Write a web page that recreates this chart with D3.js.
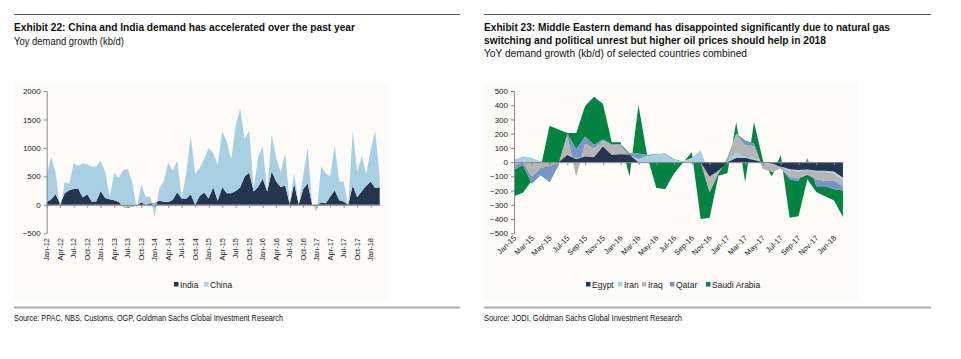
<!DOCTYPE html>
<html><head><meta charset="utf-8">
<script src="https://cdn.jsdelivr.net/npm/d3@7"></script>
<style>
body{margin:0;background:#fff;}
svg{display:block;}
</style></head>
<body>
<svg id="c" width="961" height="359"></svg>
<script>
// ---------- Left chart (Exhibit 22) ----------
const leftStart = new Date(2012, 0, 1), leftEnd = new Date(2018, 3, 1); // Jan-12 .. Mar-18
const leftTickLabels = ["Jan-12","Apr-12","Jul-12","Oct-12","Jan-13","Apr-13","Jul-13","Oct-13","Jan-14","Apr-14","Jul-14","Oct-14","Jan-15","Apr-15","Jul-15","Oct-15","Jan-16","Apr-16","Jul-16","Oct-16","Jan-17","Apr-17","Jul-17","Oct-17","Jan-18"];
const leftYTicks = [-500, 0, 500, 1000, 1500, 2000];
const indiaVals = [50,100,185,10,205,255,280,285,130,185,60,60,245,120,100,80,55,-40,-50,-35,-10,45,0,30,25,70,55,50,85,220,110,105,185,0,155,215,110,310,70,315,205,205,245,310,500,570,235,320,460,235,585,410,315,340,10,370,0,280,375,0,-10,42,30,140,255,80,60,0,340,135,240,330,410,295,310];
const totalVals = [520,845,560,-88,395,370,730,680,725,715,670,680,775,576,141,559,470,617,629,400,-70,353,135,147,-206,282,412,747,600,776,125,550,1205,541,647,800,1000,911,700,1290,1117,794,1400,1690,1150,1305,300,840,1029,240,1235,820,575,915,20,559,5,529,1005,5,-118,670,560,500,1045,412,412,-20,1294,585,853,540,965,1300,470];
const chinaVals = totalVals.map((t, i) => t - indiaVals[i]); // China stacked on India

// ---------- Right chart (Exhibit 23) ----------
const rightStart = new Date(2015, 0, 1), rightEnd = new Date(2018, 2, 1); // Jan-15 .. Feb-18
const rightTickLabels = ["Jan-15","Mar-15","May-15","Jul-15","Sep-15","Nov-15","Jan-16","Mar-16","May-16","Jul-16","Sep-16","Nov-16","Jan-17","Mar-17","May-17","Jul-17","Sep-17","Nov-17","Jan-18"];
const rightYTicks = [-500,-400,-300,-200,-100,0,100,200,300,400,500];
const egyptVals = [0,0,0,0,0,0,50,20,40,35,110,50,55,50,0,0,0,0,0,0,0,0,-100,-60,0,30,30,15,0,-10,-30,-50,-55,-50,-60,-60,-65,-110];
const iranVals  = [15,40,30,5,-10,0,0,10,0,0,0,0,0,0,20,45,55,60,20,5,30,80,0,0,10,30,15,15,-5,-5,0,-10,-10,0,-10,-10,-15,-20];
const iraqVals  = [-40,-40,-130,-50,-20,-10,130,-124,90,60,40,70,60,0,0,0,0,0,0,0,0,-55,-110,-20,10,140,80,80,-40,-55,-10,-40,-50,-40,-50,-60,-50,-40];
const qatarVals = [-30,-20,-50,-45,-110,-10,20,184,50,25,10,5,10,10,40,5,0,0,0,0,0,-25,0,0,5,0,28,20,0,0,0,-20,-20,118,-50,-40,-60,-30];
const saudiVals = [-185,-195,20,50,395,250,5,115,215,340,250,15,15,-160,340,-10,-235,-250,-100,-10,40,-400,-180,-15,-103,83,-294,153,55,-30,90,-270,-245,-148,-40,-70,-80,-185];

const leftSeries = ["India","China"];
const rightSeries = ["Egypt","Iran","Iraq","Qatar","Saudi Arabia"];
const leftColors = {"India":"#253551","China":"#a9cfe3"};
const rightColors = {"Egypt":"#253551","Iran":"#a9cfe3","Iraq":"#b5b5b5","Qatar":"#7596c6","Saudi Arabia":"#00843f"};

const SANS = "'Liberation Sans', Arial, Helvetica, sans-serif";
const NARROW = "'Liberation Sans Narrow','Arial Narrow','Liberation Sans',Arial,sans-serif";
const svg = d3.select("#c");
const fmt = d3.timeFormat("%b-%y");

function textFit(g, x, y, str, len, size, weight){
  return g.append("text").attr("x", x).attr("y", y).text(str)
    .attr("font-family", NARROW).attr("font-size", size)
    .attr("font-weight", weight || "normal").attr("fill", "#111")
    .attr("textLength", len).attr("lengthAdjust", "spacingAndGlyphs");
}

function drawChart(cfg){
  const g = svg.append("g");
  g.append("rect").attr("x", cfg.panel[0]).attr("y", 83).attr("width", cfg.panel[1]-cfg.panel[0]).attr("height", 217).attr("fill", "#fcfbf8");
  g.append("line").attr("x1", cfg.panel[0]).attr("x2", cfg.ruleEnd).attr("y1", 14.5).attr("y2", 14.5).attr("stroke", "#5a5a5a").attr("stroke-width", 1);
  g.append("line").attr("x1", cfg.panel[0]).attr("x2", cfg.ruleEnd).attr("y1", 307.5).attr("y2", 307.5).attr("stroke", "#ababab").attr("stroke-width", 2);
  cfg.titles.forEach(t => textFit(g, cfg.panel[0], t.y, t.s, t.len, t.size, t.bold ? "bold" : "normal"));
  textFit(g, cfg.panel[0], 321, cfg.source, cfg.sourceLen, 9.5, "normal");

  const cats = d3.timeMonth.range(cfg.start, cfg.end).map(fmt);
  const rows = cats.map((c, i) => {
    const r = {cat: c};
    cfg.series.forEach((s, k) => r[s] = cfg.values[k][i]);
    return r;
  });
  const x = d3.scalePoint().domain(cats).range(cfg.xRange).padding(0);
  const y = d3.scaleLinear().domain(cfg.yDomain).range([233.3, 91]);
  const layers = d3.stack().keys(cfg.series).order(d3.stackOrderNone).offset(d3.stackOffsetNone)(rows);
  const drawLayers = cfg.backToFront ? layers.slice().reverse() : layers;
  const area = d3.area().x(d => x(d.data.cat)).y0(d => y(d[0])).y1(d => y(d[1]));
  g.append("g").selectAll("path").data(drawLayers).join("path")
    .attr("d", area).attr("fill", d => cfg.colors[d.key]).attr("stroke", "none");

  const yAxis = g.append("g").attr("transform", `translate(${cfg.xRange[0]},0)`)
    .call(d3.axisLeft(y).tickValues(cfg.yTicks).tickSize(3).tickSizeOuter(0).tickFormat(d3.format("d")));
  yAxis.select(".domain").attr("stroke", "#8a8a8a");
  yAxis.selectAll(".tick line").attr("stroke", "#8a8a8a");
  yAxis.selectAll(".tick text").attr("font-family", SANS).attr("font-size", 8).attr("fill", "#222").attr("x", -6);

  const tickCats = cats.filter(c => cfg.tickLabels.includes(c));
  const xAxis = g.append("g").attr("transform", `translate(0,${y(0)})`)
    .call(d3.axisBottom(x).tickValues(tickCats).tickSize(3).tickSizeOuter(0).tickFormat(""));
  xAxis.select(".domain").attr("stroke", "#8a8a8a");
  xAxis.selectAll(".tick line").attr("stroke", "#8a8a8a");

  g.append("g").selectAll("text").data(tickCats).join("text")
    .attr("transform", d => cfg.labelRot === -90
      ? `translate(${x(d)},238) rotate(-90)`
      : `translate(${x(d)+1},237) rotate(-45)`)
    .attr("dy", cfg.labelRot === -90 ? "0.35em" : "0.3em")
    .attr("text-anchor", "end").attr("font-family", SANS).attr("font-size", 7.5).attr("fill", "#222")
    .text(d => d);

  const lg = g.append("g");
  cfg.legend.forEach(l => {
    lg.append("rect").attr("x", l.x).attr("y", 282).attr("width", 4.5).attr("height", 4.5).attr("fill", cfg.colors[l.key]);
    lg.append("text").attr("x", l.x + 6).attr("y", 287.5).text(l.key)
      .attr("font-family", SANS).attr("font-size", 8.5).attr("fill", "#222");
  });
}

drawChart({
  panel: [14, 388], ruleEnd: 460,
  titles: [
    {s: "Exhibit 22: China and India demand has accelerated over the past year", y: 31, len: 341, size: 11.5, bold: true},
    {s: "Yoy demand growth (kb/d)", y: 45, len: 110, size: 10.5}
  ],
  source: "Source: PPAC, NBS, Customs, OGP, Goldman Sachs Global Investment Research", sourceLen: 269,
  start: leftStart, end: leftEnd,
  series: leftSeries, values: [indiaVals, chinaVals], colors: leftColors, backToFront: false,
  xRange: [46.7, 46.7 + 74 * 4.5], yDomain: [-500, 2000], yTicks: leftYTicks,
  tickLabels: leftTickLabels, labelRot: -90,
  legend: [{key: "India", x: 174}, {key: "China", x: 204}]
});

drawChart({
  panel: [484, 858], ruleEnd: 931,
  titles: [
    {s: "Exhibit 23: Middle Eastern demand has disappointed significantly due to natural gas", y: 31, len: 406, size: 11.5, bold: true},
    {s: "switching and political unrest but higher oil prices should help in 2018", y: 44, len: 342, size: 11.5, bold: true},
    {s: "YoY demand growth (kb/d) of selected countries combined", y: 57, len: 263, size: 10.5}
  ],
  source: "Source: JODI, Goldman Sachs Global Investment Research", sourceLen: 198,
  start: rightStart, end: rightEnd,
  series: rightSeries, values: [egyptVals, iranVals, iraqVals, qatarVals, saudiVals], colors: rightColors, backToFront: true,
  xRange: [514, 514 + 37 * 8.89], yDomain: [-500, 500], yTicks: rightYTicks,
  tickLabels: rightTickLabels, labelRot: -45,
  legend: [{key: "Egypt", x: 586}, {key: "Iran", x: 618}, {key: "Iraq", x: 642}, {key: "Qatar", x: 670}, {key: "Saudi Arabia", x: 706}]
});
</script>
</body></html>
